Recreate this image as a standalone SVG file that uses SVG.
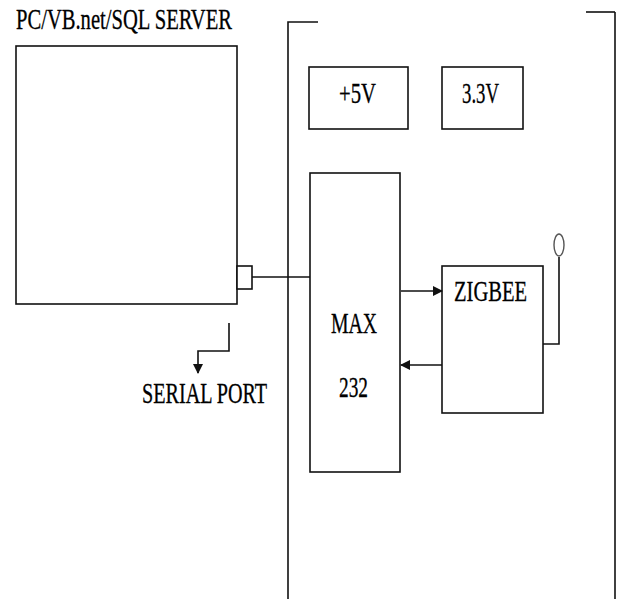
<svg xmlns="http://www.w3.org/2000/svg" width="619" height="599" viewBox="0 0 619 599">
<style>
.box{fill:#fff;stroke:#111;stroke-width:1.6}
.ln{fill:none;stroke:#111;stroke-width:1.6}
.t{font-family:"Liberation Serif","Times New Roman",serif;font-size:29px;fill:#000;stroke:#000;stroke-width:0.3}
</style>
<defs>
<marker id="ah" markerWidth="10" markerHeight="10" refX="9" refY="5" orient="auto" markerUnits="userSpaceOnUse">
<path d="M0,0 L10,5 L0,10 Z" fill="#111"/>
</marker>
</defs>
<rect width="619" height="599" fill="#fff"/>
<g id="frame">
<path class="ln" d="M318,22 H288 V599"/>
<path class="ln" d="M586,12 H615" stroke="#666" stroke-width="2"/>
<path class="ln" d="M615,12 V599"/>
</g>
<g id="pc">
<rect class="box" x="16" y="46" width="221" height="258"/>
<text class="t" x="16" y="29" textLength="216" lengthAdjust="spacingAndGlyphs">PC/VB.net/SQL SERVER</text>
</g>
<g id="serialport">
<rect class="box" x="237" y="266" width="15" height="23"/>
<text class="t" x="142" y="403" textLength="125" lengthAdjust="spacingAndGlyphs">SERIAL PORT</text>
</g>
<g id="p5v">
<rect class="box" x="309" y="67" width="99" height="62"/>
<text class="t" x="339" y="103" textLength="37" lengthAdjust="spacingAndGlyphs">+5V</text>
</g>
<g id="p33v">
<rect class="box" x="442" y="67" width="81" height="62"/>
<text class="t" x="462" y="103" textLength="37" lengthAdjust="spacingAndGlyphs">3.3V</text>
</g>
<g id="max232">
<rect class="box" x="310" y="173" width="90" height="299"/>
<text class="t" x="331" y="333" textLength="46" lengthAdjust="spacingAndGlyphs">MAX</text>
<text class="t" x="339" y="397" textLength="29" lengthAdjust="spacingAndGlyphs">232</text>
</g>
<g id="zigbee">
<rect class="box" x="442" y="266" width="101" height="147"/>
<text class="t" x="454" y="301" textLength="73" lengthAdjust="spacingAndGlyphs">ZIGBEE</text>
</g>
<g id="antenna">
<path class="ln" d="M543,344 H559 V257"/>
<ellipse cx="559" cy="245" rx="5" ry="11" fill="#fff" stroke="#555" stroke-width="1.4"/>
</g>
<g id="connectors">
<path class="ln" d="M252,277 H310"/>
<path class="ln" d="M401,291 H442" marker-end="url(#ah)"/>
<path class="ln" d="M442,365 H401" marker-end="url(#ah)"/>
<path class="ln" d="M229,323 V351 H198 V373" marker-end="url(#ah)"/>
</g>
</svg>
